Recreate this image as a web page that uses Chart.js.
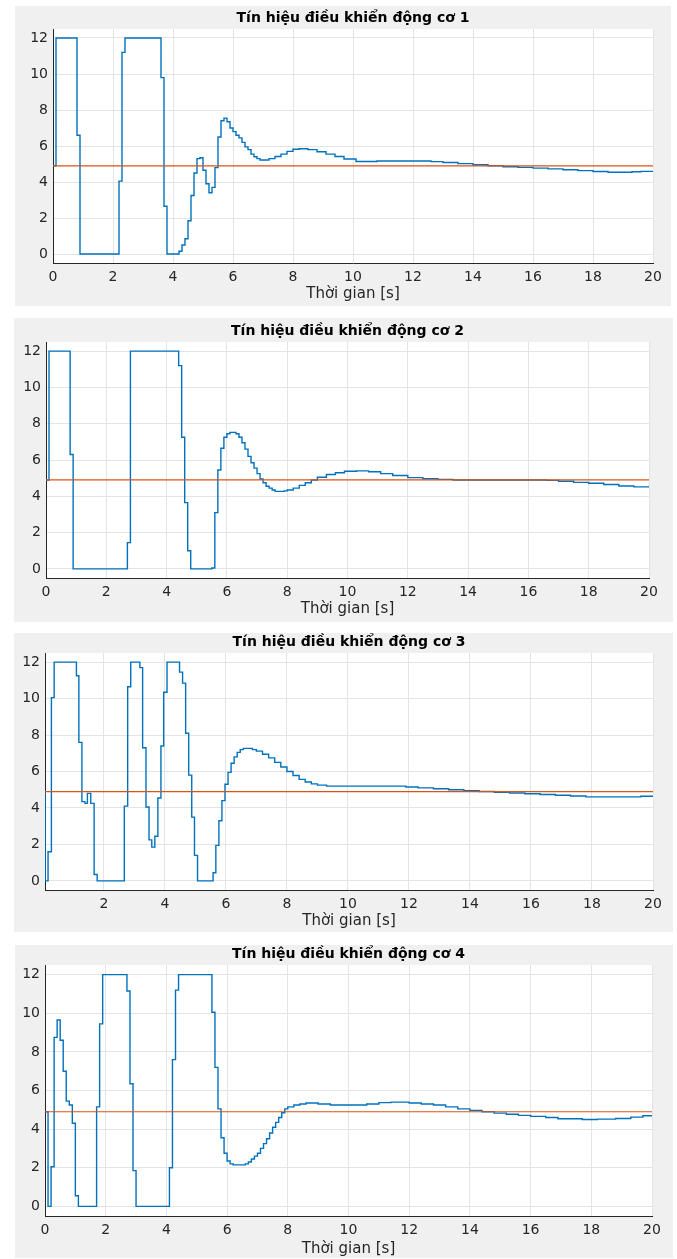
<!DOCTYPE html>
<html>
<head>
<meta charset="utf-8">
<script src="https://cdn.jsdelivr.net/npm/chart.js@4.4.1/dist/chart.umd.min.js"></script>
<style>
  body { margin: 0; background: #fff; width: 677px; height: 1259px; overflow: hidden; position: relative; }
  .panel { position: absolute; background: #f0f0f0; }
  .panel canvas { display: block; }
</style>
</head>
<body>
<div class="panel" id="p1"><canvas></canvas></div>
<div class="panel" id="p2"><canvas></canvas></div>
<div class="panel" id="p3"><canvas></canvas></div>
<div class="panel" id="p4"><canvas></canvas></div>
<script>
// titles / labels
const titles = [
  'Tín hiệu điều khiển động cơ 1',
  'Tín hiệu điều khiển động cơ 2',
  'Tín hiệu điều khiển động cơ 3',
  'Tín hiệu điều khiển động cơ 4'
];
const xLabel = 'Thời gian [s]';
const setpoint = 4.9;

const xTicks = [0, 2, 4, 6, 8, 10, 12, 14, 16, 18, 20];
const xTicksNoZero = [2, 4, 6, 8, 10, 12, 14, 16, 18, 20];
const yTicks = [0, 2, 4, 6, 8, 10, 12];

// motor 1 (stairs: value holds from time[i] to time[i+1])
const time1 = [0, 0.1, 0.8, 0.9, 2.2, 2.3, 2.4, 3.6, 3.7, 3.8, 4.2, 4.3, 4.4, 4.5, 4.6, 4.7, 4.8, 4.9, 5.0, 5.1,
  5.2, 5.3, 5.4, 5.5, 5.6, 5.7, 5.8, 5.9, 6.0, 6.1, 6.2, 6.3, 6.4, 6.5, 6.6, 6.7, 6.8, 6.9, 7.2, 7.4,
  7.6, 7.8, 8.0, 8.2, 8.5, 8.8, 9.1, 9.4, 9.7, 10.1, 10.8, 12.6, 13.0, 13.5, 14.0, 14.5, 15.0, 15.5, 16.0, 16.5,
  17.0, 17.5, 18.0, 18.5, 19.3, 19.6, 20];
const motor1 = [4.9, 12, 6.6, 0, 4.05, 11.2, 12, 9.8, 2.65, 0, 0.15, 0.5, 0.85, 1.85, 3.25, 4.5, 5.3, 5.35, 4.65, 3.9,
  3.4, 3.7, 4.8, 6.5, 7.4, 7.55, 7.35, 7.0, 6.8, 6.6, 6.45, 6.2, 5.95, 5.8, 5.55, 5.4, 5.3, 5.22, 5.3, 5.42,
  5.55, 5.7, 5.82, 5.85, 5.8, 5.68, 5.55, 5.42, 5.28, 5.14, 5.17, 5.13, 5.08, 5.02, 4.96, 4.9, 4.85, 4.81, 4.77, 4.73,
  4.68, 4.63, 4.58, 4.54, 4.57, 4.59, 4.59];

// motor 2
const time2 = [0, 0.1, 0.8, 0.9, 2.7, 2.8, 4.4, 4.5, 4.6, 4.7, 4.8, 5.5, 5.6, 5.7, 5.8, 5.9, 6.0, 6.1, 6.3, 6.4,
  6.5, 6.6, 6.7, 6.8, 6.9, 7.0, 7.1, 7.2, 7.3, 7.4, 7.5, 7.6, 7.9, 8.0, 8.2, 8.4, 8.6, 8.8, 9.0, 9.3,
  9.6, 9.9, 10.3, 10.7, 11.1, 11.5, 12.0, 12.5, 13.0, 13.5, 16.6, 17.0, 17.5, 18.0, 18.5, 19.0, 19.5, 20];
const motor2 = [4.9, 12, 6.3, 0, 1.45, 12, 11.2, 7.25, 3.65, 1.0, 0, 0.05, 3.1, 5.45, 6.65, 7.25, 7.45, 7.52, 7.45, 7.25,
  6.95, 6.6, 6.2, 5.85, 5.55, 5.25, 4.95, 4.75, 4.55, 4.45, 4.35, 4.27, 4.3, 4.35, 4.45, 4.6, 4.75, 4.9, 5.05, 5.2,
  5.3, 5.38, 5.4, 5.35, 5.25, 5.15, 5.03, 4.97, 4.93, 4.9, 4.88, 4.83, 4.77, 4.72, 4.65, 4.57, 4.52, 4.49];

// motor 3
const time3 = [0.07, 0.075, 0.17, 0.28, 0.37, 1.1, 1.18, 1.28, 1.38, 1.46, 1.57, 1.68, 1.78, 2.67, 2.78, 2.88, 3.18, 3.27, 3.38, 3.48,
  3.57, 3.67, 3.77, 3.87, 3.96, 4.07, 4.48, 4.58, 4.68, 4.78, 4.88, 4.97, 5.07, 5.58, 5.67, 5.77, 5.87, 5.97, 6.07, 6.17,
  6.27, 6.37, 6.47, 6.57, 6.87, 7.0, 7.2, 7.4, 7.6, 7.8, 8.0, 8.2, 8.4, 8.6, 8.8, 9.0, 9.3, 11.9, 12.3, 12.8,
  13.3, 13.8, 14.3, 14.8, 15.3, 15.8, 16.3, 16.8, 17.3, 17.8, 19.6, 20];
const motor3 = [4.9, 0, 1.6, 10.05, 12, 11.25, 7.6, 4.35, 4.25, 4.8, 4.25, 0.35, 0, 4.1, 10.65, 12, 11.7, 7.3, 4.05, 2.25,
  1.85, 2.45, 4.55, 7.4, 10.35, 12, 11.45, 10.85, 8.1, 5.8, 3.5, 1.4, 0, 0.45, 1.95, 3.3, 4.4, 5.3, 5.95, 6.45,
  6.8, 7.05, 7.2, 7.27, 7.2, 7.12, 6.95, 6.75, 6.5, 6.25, 6.0, 5.78, 5.57, 5.42, 5.32, 5.25, 5.2, 5.15, 5.1, 5.05,
  5.0, 4.95, 4.9, 4.86, 4.82, 4.78, 4.74, 4.7, 4.66, 4.61, 4.64, 4.64];

// motor 4
const time4 = [0, 0.1, 0.2, 0.3, 0.4, 0.5, 0.6, 0.7, 0.8, 0.9, 1.0, 1.1, 1.7, 1.8, 1.9, 2.7, 2.8, 2.9, 3.0, 4.1,
  4.2, 4.3, 4.4, 5.5, 5.6, 5.7, 5.8, 5.9, 6.0, 6.1, 6.2, 6.6, 6.7, 6.8, 6.9, 7.0, 7.1, 7.2, 7.3, 7.4,
  7.5, 7.6, 7.7, 7.8, 7.9, 8.0, 8.2, 8.4, 8.6, 9.0, 9.4, 10.3, 10.6, 11.0, 11.4, 12.0, 12.4, 12.8, 13.2, 13.6,
  14.0, 14.4, 14.8, 15.2, 15.6, 16.0, 16.5, 16.9, 17.7, 18.2, 18.8, 19.3, 19.7, 20];
const motor4 = [4.9, 0, 2.05, 8.75, 9.65, 8.6, 7.0, 5.45, 5.25, 4.3, 0.55, 0, 5.15, 9.45, 12, 11.15, 6.35, 1.85, 0, 2.0,
  7.6, 11.2, 12, 10.05, 7.2, 5.05, 3.55, 2.75, 2.35, 2.2, 2.15, 2.2, 2.3, 2.45, 2.6, 2.75, 3.0, 3.25, 3.5, 3.8,
  4.1, 4.35, 4.6, 4.85, 5.05, 5.15, 5.25, 5.3, 5.35, 5.3, 5.25, 5.25, 5.3, 5.37, 5.4, 5.35, 5.3, 5.25, 5.15, 5.05,
  4.97, 4.9, 4.83, 4.77, 4.71, 4.66, 4.6, 4.54, 4.5, 4.52, 4.55, 4.62, 4.69, 4.71];

// page geometry of each gray panel and its white plot area
const panels = [
  { box: [15, 6, 656, 300], plot: [53, 29, 653, 263], xMin: 0, labelGap: 31 },
  { box: [14, 318, 659, 304], plot: [46, 342, 649, 578], xMin: 0, labelGap: 31 },
  { box: [14, 633, 659, 299], plot: [45, 653, 653, 890], xMin: 0.07, labelGap: 31 },
  { box: [15, 945, 658, 313], plot: [45, 965, 652, 1216], xMin: 0, labelGap: 33 }
];

Chart.defaults.font.family = "'DejaVu Sans', sans-serif";
Chart.defaults.color = '#262626';

const plotBackground = {
  id: 'plotBackground',
  beforeDraw(chart) {
    const { ctx, chartArea: a } = chart;
    ctx.save();
    ctx.fillStyle = '#ffffff';
    ctx.fillRect(a.left, a.top, a.right - a.left, a.bottom - a.top);
    ctx.restore();
  }
};

function makeChart(i, times, values, ticksX) {
  const p = panels[i];
  const [bx, by, bw, bh] = p.box;
  const [pl, pt, pr, pb] = p.plot;
  const div = document.getElementById('p' + (i + 1));
  div.style.left = bx + 'px';
  div.style.top = by + 'px';
  div.style.width = bw + 'px';
  div.style.height = bh + 'px';
  const canvas = div.querySelector('canvas');
  canvas.width = bw;
  canvas.height = bh;

  const stairs = times.map((t, k) => ({ x: t, y: values[k] }));
  const ref = [{ x: p.xMin, y: setpoint }, { x: 20, y: setpoint }];
  const axisHeight = by + bh - pb;

  new Chart(canvas, {
    type: 'line',
    data: {
      datasets: [
        { data: ref, borderColor: '#D95319', borderWidth: 1.2, pointRadius: 0, order: 0 },
        { data: stairs, borderColor: '#0072BD', borderWidth: 1.4, pointRadius: 0, stepped: 'before', order: 1 }
      ]
    },
    options: {
      responsive: false,
      animation: false,
      events: [],
      layout: { padding: { top: pt - by - 17.5, right: bx + bw - pr, bottom: 0, left: 0 } },
      plugins: {
        legend: { display: false },
        tooltip: { enabled: false },
        title: {
          display: true,
          text: titles[i],
          fullSize: false,
          color: '#000',
          font: { size: 14, weight: 'bold', lineHeight: 1 },
          padding: { top: 0, bottom: 3.5 }
        }
      },
      scales: {
        x: {
          type: 'linear',
          min: p.xMin,
          max: 20,
          afterBuildTicks: s => { s.ticks = ticksX.map(v => ({ value: v })); },
          afterFit: s => { s.height = axisHeight; },
          grid: { color: '#e4e4e4', drawTicks: false },
          border: { color: '#262626', width: 1 },
          ticks: { padding: 6, font: { size: 14 }, maxRotation: 0, autoSkip: false, callback: v => String(v) },
          title: {
            display: true,
            text: xLabel,
            font: { size: 15 },
            padding: { top: 0, bottom: axisHeight - p.labelGap - 9 }
          }
        },
        y: {
          min: -0.5,
          max: 12.5,
          afterBuildTicks: s => { s.ticks = yTicks.map(v => ({ value: v })); },
          afterFit: s => { s.width = pl - bx; },
          grid: { color: '#e4e4e4', drawTicks: false },
          border: { color: '#262626', width: 1 },
          ticks: { padding: 5, font: { size: 14 }, callback: v => String(v) }
        }
      }
    },
    plugins: [plotBackground]
  });
}

makeChart(0, time1, motor1, xTicks);
makeChart(1, time2, motor2, xTicks);
makeChart(2, time3, motor3, xTicksNoZero);
makeChart(3, time4, motor4, xTicks);
</script>
</body>
</html>
